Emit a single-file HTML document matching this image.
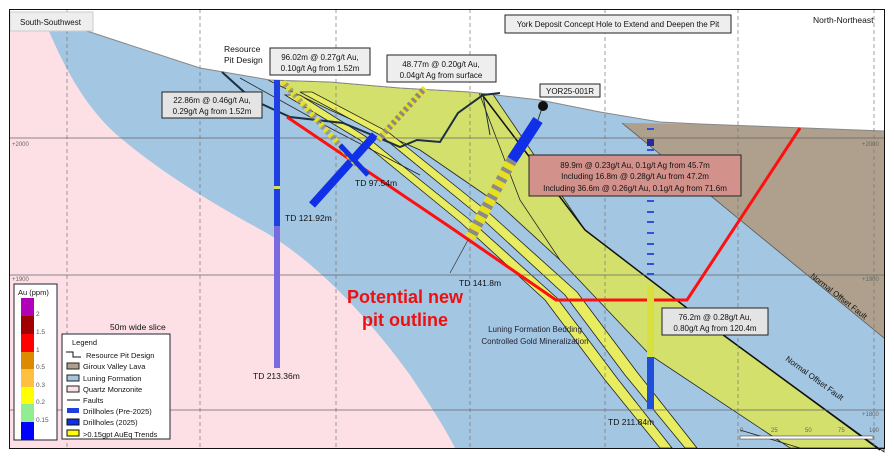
<!DOCTYPE html>
<html><head><meta charset="utf-8"><style>
html,body{margin:0;padding:0;background:#fff}
svg{display:block;font-family:"Liberation Sans",sans-serif}
</style></head><body>
<svg width="894" height="459" viewBox="0 0 894 459" xmlns="http://www.w3.org/2000/svg">
<rect x="0" y="0" width="894" height="459" fill="#fff"/>
<path d="M10,12 L90,32 L200,68 L270,80 L330,82 L400,88 L470,92 L540,100 L600,112 L660,122 L700,124 L884,131 L884,448 L10,448 Z" fill="#a3c6e2"/>
<path d="M10,12 L42,14 C60,60 85,110 123,140 C165,175 215,205 265,232 C320,265 370,320 410,375 C430,405 445,428 455,448 L10,448 Z" fill="#fde0e5"/>
<path d="M622,123 L700,124 L884,131 L884,338 Z" fill="#aea08d"/>
<line x1="622" y1="123" x2="884" y2="338" stroke="#555" stroke-width="0.8"/>
<path d="M268,80 L330,82 L400,88 L470,92 L492,93 L585,230 L700,318 L884,452 L884,448 L790,448 L650,355 L560,260 L500,205 L420,150 L330,110 Z" fill="#d4e06c" stroke="#222" stroke-width="0.8"/>
<path d="M480,92 L585,230 L700,318 L880,450" fill="none" stroke="#111" stroke-width="1.5"/>
<path d="M285,95 L360,140 L460,222 L545,300 L605,380 L660,448 L672,448 L617,378 L557,298 L470,220 L368,138 L300,95 Z" fill="#e8ec60" stroke="#222" stroke-width="0.8"/>
<path d="M300,92 L380,135 L478,215 L565,295 L625,375 L685,448 L697,448 L637,372 L577,292 L488,212 L388,132 L312,92 Z" fill="#e8ec60" stroke="#222" stroke-width="0.8"/>
<path d="M240,78 L330,128 L420,175" fill="none" stroke="#222" stroke-width="0.8"/>
<path d="M478,90 L520,200 L560,260" fill="none" stroke="#222" stroke-width="0.8"/>
<path d="M740,430 L800,448" stroke="#222" stroke-width="0.8"/>
<path d="M10,9 L884,9 L884,131 L700,124 L660,122 L600,112 L540,100 L470,92 L400,88 L330,82 L270,80 L200,68 L90,32 L10,12 Z" fill="#fff"/>
<path d="M10,12 L90,32 L200,68 L270,80 L330,82 L400,88 L470,92 L540,100 L600,112 L660,122 L700,124 L884,131" fill="none" stroke="#888" stroke-width="1"/>
<g stroke="#777" stroke-width="0.7" stroke-dasharray="4,3" fill="none">
<line x1="67" y1="9" x2="67" y2="448"/><line x1="200" y1="9" x2="200" y2="448"/><line x1="336" y1="9" x2="336" y2="448"/><line x1="470" y1="9" x2="470" y2="448"/><line x1="605" y1="9" x2="605" y2="448"/><line x1="738" y1="9" x2="738" y2="448"/><line x1="874" y1="9" x2="874" y2="448"/>
</g>
<g stroke="#666" stroke-width="0.8"><line x1="10" y1="138" x2="884" y2="138"/><line x1="10" y1="275" x2="884" y2="275"/><line x1="10" y1="410" x2="884" y2="410"/></g>
<g font-size="6" fill="#666"><text x="12" y="146">+2000</text><text x="862" y="146">+2000</text><text x="12" y="281">+1900</text><text x="862" y="281">+1900</text><text x="862" y="416">+1800</text></g>
<path d="M222,72 L233,82 L253,100 L290,117 L343,123 L377,137 L400,147 L417,140 L440,142 L458,113 L483,95 L500,93" fill="none" stroke="#1c3040" stroke-width="2"/>
<path d="M483,95 L490,135" stroke="#1c3040" stroke-width="1"/>
<path d="M287,117 L450,227 L556,300 L687,300 L800,128" fill="none" stroke="#ff1010" stroke-width="3"/>
<rect x="274" y="80" width="6" height="148" fill="#1f3fe0"/>
<rect x="274" y="186" width="6" height="3" fill="#d8e060"/>
<rect x="274" y="226" width="6" height="142" fill="#7a6ae0"/>
<line x1="375" y1="135" x2="312" y2="205" stroke="#1030e8" stroke-width="8"/>
<line x1="283" y1="82" x2="360" y2="168" stroke="#e6e020" stroke-width="6" stroke-dasharray="4,3"/>
<line x1="283" y1="82" x2="360" y2="168" stroke="#888" stroke-width="6" stroke-dasharray="3,4" stroke-dashoffset="4" opacity="0.7"/>
<line x1="340" y1="145" x2="368" y2="175" stroke="#1030e8" stroke-width="5"/>
<line x1="425" y1="88" x2="378" y2="140" stroke="#e6e020" stroke-width="6" stroke-dasharray="3,3"/>
<line x1="425" y1="88" x2="378" y2="140" stroke="#888" stroke-width="6" stroke-dasharray="3,3" stroke-dashoffset="3"/>
<line x1="542" y1="108" x2="538" y2="120" stroke="#333" stroke-width="1"/>
<line x1="538" y1="120" x2="512" y2="160" stroke="#1030e8" stroke-width="11"/>
<line x1="512" y1="160" x2="470" y2="238" stroke="#e6e020" stroke-width="11"/>
<line x1="512" y1="160" x2="470" y2="238" stroke="#8a8a8a" stroke-width="11" stroke-dasharray="4,6"/>
<circle cx="543" cy="106" r="5" fill="#111"/>
<line x1="468" y1="240" x2="450" y2="273" stroke="#333" stroke-width="0.7"/>
<g fill="#3050e0"><rect x="647" y="128" width="7" height="2"/><rect x="647" y="139" width="7" height="7" fill="#2a2aa0"/><rect x="647" y="149" width="7" height="2"/><rect x="647" y="200" width="7" height="2"/><rect x="647" y="211" width="7" height="2"/><rect x="647" y="221" width="7" height="2"/><rect x="647" y="232" width="7" height="2"/><rect x="647" y="243" width="7" height="2"/><rect x="647" y="253" width="7" height="2"/><rect x="647" y="263" width="7" height="2"/><rect x="647" y="273" width="7" height="2"/></g>
<rect x="647" y="285" width="7" height="72" fill="#d8e040"/>
<rect x="647" y="357" width="7" height="52" fill="#1f4fd8"/>
<g font-size="8.5" fill="#111">
<text x="224" y="52">Resource</text><text x="224" y="63">Pit Design</text>
<text x="355" y="186">TD 97.54m</text>
<text x="285" y="221">TD 121.92m</text>
<text x="253" y="379">TD 213.36m</text>
<text x="459" y="286">TD 141.8m</text>
<text x="608" y="425">TD 211.84m</text>
<text x="110" y="330">50m wide slice</text>
<text x="813" y="23">North-Northeast</text>
</g>
<g font-size="8" fill="#223" text-anchor="middle"><text x="535" y="332">Luning Formation Bedding</text><text x="535" y="344">Controlled Gold Mineralization</text></g>
<text x="785" y="360" font-size="8" fill="#111" transform="rotate(36 785 360)">Normal Offset Fault</text>
<text x="810" y="277" font-size="8" fill="#111" transform="rotate(38 810 277)">Normal Offset Fault</text>
<g font-size="18" font-weight="bold" fill="#ee1010" text-anchor="middle"><text x="405" y="303">Potential new</text><text x="405" y="326">pit outline</text></g>
<g font-size="8" fill="#111">
<rect x="10" y="12" width="83" height="19" fill="#eee" stroke="#ccc"/><text x="20" y="25">South-Southwest</text>
<rect x="505" y="15" width="226" height="18" fill="#eee" stroke="#222"/><text x="618" y="27" text-anchor="middle">York Deposit Concept Hole to Extend and Deepen the Pit</text>
<rect x="270" y="48" width="100" height="27" fill="#eee" stroke="#222"/><text x="320" y="60" text-anchor="middle">96.02m @ 0.27g/t Au,</text><text x="320" y="71" text-anchor="middle">0.10g/t Ag from 1.52m</text>
<rect x="387" y="55" width="109" height="27" fill="#eee" stroke="#222"/><text x="441" y="67" text-anchor="middle">48.77m @ 0.20g/t Au,</text><text x="441" y="78" text-anchor="middle">0.04g/t Ag from surface</text>
<rect x="162" y="92" width="100" height="26" fill="#e4e4e4" stroke="#222"/><text x="212" y="103" text-anchor="middle">22.86m @ 0.46g/t Au,</text><text x="212" y="114" text-anchor="middle">0.29g/t Ag from 1.52m</text>
<rect x="540" y="84" width="60" height="13" fill="#eee" stroke="#222"/><text x="570" y="94" text-anchor="middle">YOR25-001R</text>
<rect x="529" y="155" width="212" height="41" fill="#d3918c" stroke="#222"/><text x="635" y="168" text-anchor="middle">89.9m @ 0.23g/t Au, 0.1g/t Ag from 45.7m</text><text x="635" y="179" text-anchor="middle">Including 16.8m @ 0.28g/t Au from 47.2m</text><text x="635" y="191" text-anchor="middle">Including 36.6m @ 0.26g/t Au, 0.1g/t Ag from 71.6m</text>
<rect x="662" y="308" width="106" height="27" fill="#e4e4e4" stroke="#222"/><text x="715" y="320" text-anchor="middle">76.2m @ 0.28g/t Au,</text><text x="715" y="331" text-anchor="middle">0.80g/t Ag from 120.4m</text>
</g>
<g font-size="6" fill="#666"><text x="740" y="432">0</text><text x="771" y="432">25</text><text x="805" y="432">50</text><text x="838" y="432">75</text><text x="869" y="432">100</text></g>
<rect x="740" y="436" width="133" height="3" fill="#fff" stroke="#222" stroke-width="0.5"/>
<rect x="14" y="284" width="43" height="156" fill="#fff" stroke="#223"/>
<text x="18" y="295" font-size="7.5" fill="#111">Au (ppm)</text>
<rect x="21" y="298" width="13" height="18" fill="#b000b8"/><rect x="21" y="316" width="13" height="18" fill="#a00000"/><rect x="21" y="334" width="13" height="18" fill="#ff0000"/><rect x="21" y="352" width="13" height="17" fill="#dd8a00"/><rect x="21" y="369" width="13" height="18" fill="#ffc040"/><rect x="21" y="387" width="13" height="17" fill="#ffff00"/><rect x="21" y="404" width="13" height="18" fill="#90ee90"/><rect x="21" y="422" width="13" height="18" fill="#0000ff"/>
<g font-size="6.5" fill="#555"><text x="36" y="316">2</text><text x="36" y="334">1.5</text><text x="36" y="352">1</text><text x="36" y="369">0.5</text><text x="36" y="387">0.3</text><text x="36" y="404">0.2</text><text x="36" y="422">0.15</text></g>
<rect x="62" y="334" width="108" height="105" fill="#fff" stroke="#223"/>
<g font-size="7.5" fill="#111">
<text x="72" y="345">Legend</text>
<path d="M66,352 L73,352 L73,357 L81,357" fill="none" stroke="#111"/><text x="86" y="358">Resource Pit Design</text>
<rect x="67" y="363" width="12" height="6" fill="#aea08d" stroke="#222"/><text x="83" y="369">Giroux Valley Lava</text>
<rect x="67" y="375" width="12" height="6" fill="#a3c6e2" stroke="#222"/><text x="83" y="381">Luning Formation</text>
<rect x="67" y="386" width="12" height="6" fill="#fde0e5" stroke="#222"/><text x="83" y="392">Quartz Monzonite</text>
<line x1="67" y1="400" x2="80" y2="400" stroke="#111"/><text x="83" y="403">Faults</text>
<rect x="67" y="408" width="12" height="5" fill="#1f3fe0"/><text x="83" y="414">Drillholes (Pre-2025)</text>
<rect x="67" y="419" width="12" height="6" fill="#1030e8" stroke="#111"/><text x="83" y="425">Drillholes (2025)</text>
<rect x="67" y="430" width="12" height="6" fill="#ffff00" stroke="#111"/><text x="83" y="437">&gt;0.15gpt AuEq Trends</text>
</g>
<rect x="9.5" y="9.5" width="875" height="439" fill="none" stroke="#111" stroke-width="1"/>
</svg>
</body></html>
